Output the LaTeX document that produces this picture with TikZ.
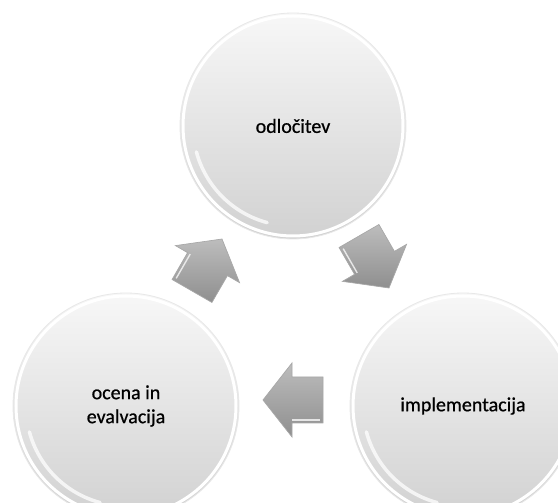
\documentclass[tikz,border=0pt]{standalone}
\usepackage{fontspec}
\setmainfont{Carlito}
\newfontfamily\labelfont[FakeBold=0.7]{Carlito}
\tikzset{
  bubble/.style={circle, minimum size=226pt, inner sep=0pt,
    top color=black!3, bottom color=black!18, draw=black!9, line width=0.8pt,
    font=\labelfont\fontsize{20}{24}\selectfont, align=center, text=black},
  ring/.style={draw=white, line width=3pt},
  gloss/.style={draw=white, line width=3.5pt, line cap=round, opacity=0.75},
  cyclearrow/.style={top color=black!26, bottom color=black!44, draw=black!34, line width=0.7pt, line join=miter},
  arrowedge/.style={draw=white, line width=1.4pt, opacity=0.75}
}
\begin{document}
\begin{tikzpicture}[x=1pt,y=1pt]
\useasboundingbox (0,0) rectangle (558,503);
\clip (0,0) rectangle (558,503);
\fill[white] (0,0) rectangle (558,503);
% circles
\node[bubble] (dec) at (293,377) {odločitev};
\node[bubble] (eval) at (126,97) {ocena in\\evalvacija};
\node[bubble] (impl) at (463,97) {implementacija};
\foreach \n in {dec,eval,impl}{
  \draw[ring] (\n.center) circle (110pt);
  \draw[gloss] (\n.center) ++(195:100pt) arc (195:255:100pt);
}
% arrows
\coordinate (a1) at (207,238);
\coordinate (a2) at (374,241);
\coordinate (a3) at (293,103);
\foreach \c/\r/\s in {a1/60/1, a2/-60/-1, a3/180/1}{
  \begin{scope}[shift={(\c)}, rotate=\r, yscale=\s]
    \path[cyclearrow] (-30,-23) -- (1,-23) -- (1,-37) -- (30,0) -- (1,37) -- (1,23) -- (-30,23) -- cycle;
    \draw[arrowedge] (-27,20) -- (1,20);
  \end{scope}
}
\end{tikzpicture}
\end{document}
